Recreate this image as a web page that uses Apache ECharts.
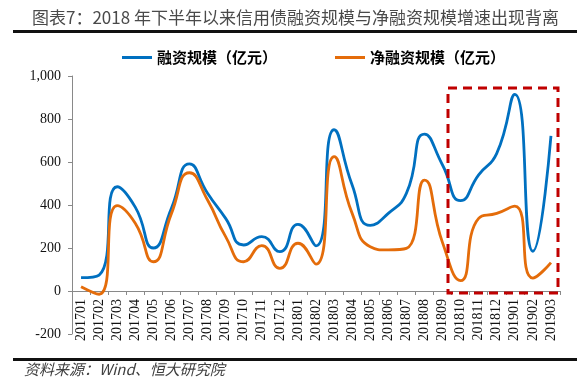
<!DOCTYPE html>
<html><head><meta charset="utf-8">
<script src="https://cdn.jsdelivr.net/npm/echarts@6/dist/echarts.min.js"></script>
<style>html,body{margin:0;padding:0;background:#fff}#c{width:587px;height:388px}</style>
</head><body><div id="c"></div>
<script>
var categories = ['201701','201702','201703','201704','201705','201706','201707','201708','201709','201710','201711','201712',
  '201801','201802','201803','201804','201805','201806','201807','201808','201809','201810','201811','201812',
  '201901','201902','201903'];
var financing = [62,74,485,390,200,385,591,455,338,214,253,183,310,210,750,493,305,361,454,730,586,420,540,640,915,185,721];
var netFinancing = [20,-15,397,315,136,360,550,423,253,136,211,105,222,125,625,361,206,191,198,516,225,48,338,361,395,60,132];
var yTicks = {min:-200, max:1000, interval:200};
var seriesNames = ['融资规模（亿元）','净融资规模（亿元）'];
var titleText = '图表7：2018 年下半年以来信用债融资规模与净融资规模增速出现背离';
var sourceText = '资料来源：Wind、恒大研究院';

var gridTop = 76, gridBottom = 54, H = 388;
var plotH = H - gridTop - gridBottom;
var zeroOffset = -plotH * (0 - yTicks.min) / (yTicks.max - yTicks.min);

var chart = echarts.init(document.getElementById('c'));
var serif = '"Liberation Serif", "Times New Roman", serif';
var axisColor = '#898989';
chart.setOption({
  animation:false,
  backgroundColor:'#fff',
  grid:{left:72, right:27, top:gridTop, bottom:gridBottom},
  legend:{
    left:117, top:45, itemWidth:30, itemHeight:3, itemGap:58, icon:'rect',
    textStyle:{fontFamily:'"Noto Sans CJK SC"', fontWeight:'bold', fontSize:15, color:'#000'},
    data:seriesNames
  },
  xAxis:{
    type:'category', data:categories, boundaryGap:true, offset:zeroOffset,
    axisLine:{onZero:false, lineStyle:{color:axisColor, width:1}},
    axisTick:{show:true, length:4, inside:false, lineStyle:{color:axisColor}},
    axisLabel:{rotate:90, interval:0, margin:8, fontFamily:serif, fontSize:14, color:'#111'}
  },
  yAxis:{
    type:'value', min:yTicks.min, max:yTicks.max, interval:yTicks.interval,
    splitLine:{show:false},
    axisLine:{show:true, lineStyle:{color:axisColor, width:1}},
    axisTick:{show:true, length:4, lineStyle:{color:axisColor}},
    axisLabel:{margin:11, fontFamily:serif, fontSize:14, color:'#111',
      formatter:function(v){return v.toLocaleString('en-US');}}
  },
  series:[
    {name:seriesNames[0], type:'line', data:financing, smooth:0.55, symbol:'none',
      lineStyle:{color:'#0070C0', width:2.8}, itemStyle:{color:'#0070C0'}},
    {name:seriesNames[1], type:'line', data:netFinancing, smooth:0.55, symbol:'none',
      lineStyle:{color:'#E46C0A', width:2.8}, itemStyle:{color:'#E46C0A'}}
  ],
  graphic:[
    {type:'text', left:32, top:9, style:{text:titleText, fontFamily:'"Noto Sans CJK SC"', fontSize:17, fill:'#4a4a4a'}},
    {type:'rect', shape:{x:13, y:30, width:564, height:3}, style:{fill:'#111'}},
    {type:'rect', shape:{x:13, y:358, width:564, height:3}, style:{fill:'#111'}},
    {type:'text', left:24, top:362, style:{text:sourceText, fontFamily:'"Noto Sans CJK SC"', fontSize:15, fontStyle:'italic', fill:'#404040'}},
    {type:'rect', z:100, shape:{x:448, y:88, width:110, height:205},
      style:{fill:'none', stroke:'#C00000', lineWidth:3, lineDash:[9,6]}}
  ]
});
</script></body></html>
